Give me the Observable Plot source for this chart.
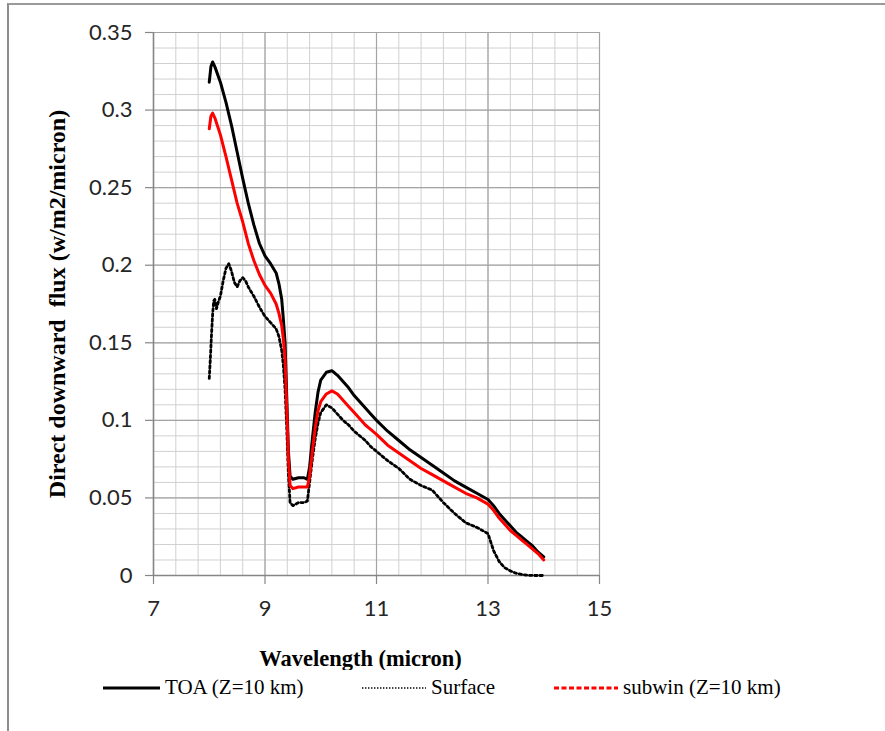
<!DOCTYPE html>
<html>
<head>
<meta charset="utf-8">
<script src="https://cdn.jsdelivr.net/npm/d3@7"></script>
<script src="https://cdn.jsdelivr.net/npm/@observablehq/plot@0.6"></script>
<style>
  html, body { margin: 0; padding: 0; background: #fff; }
  #page { position: relative; width: 885px; height: 731px; overflow: hidden; }
  #frame { position: absolute; left: 7px; top: 3px; width: 900px; height: 740px;
           border-left: 2px solid #8c8c8c; border-top: 2px solid #9a9a9a; }
  #chart { position: absolute; left: 0; top: 0; }
  .leg { position: absolute; top: 675px; font-family: "Liberation Serif", serif; font-size: 21px; color: #000; white-space: nowrap; }
  .leg svg { position: absolute; top: 0; }
</style>
</head>
<body>
<div id="page">
  <div id="frame"></div>
  <div id="chart"></div>
  <div id="legend"></div>
</div>
<script>
// Wavelength grid (micron) shared by the TOA and sub-window curves
const wavelength = [8.00, 8.03, 8.06, 8.10, 8.20, 8.30, 8.40, 8.50, 8.60, 8.70, 8.80, 8.90,
  9.00, 9.10, 9.20, 9.25, 9.30, 9.33, 9.36, 9.39, 9.42, 9.45, 9.50, 9.60, 9.70, 9.76,
  9.80, 9.85, 9.90, 9.95, 10.0, 10.1, 10.2, 10.3, 10.4, 10.5, 10.6, 10.7, 10.8, 10.9,
  11.0, 11.2, 11.4, 11.6, 11.8, 12.0, 12.2, 12.4, 12.6, 12.8, 13.0, 13.1, 13.2, 13.3,
  13.4, 13.5, 13.6, 13.7, 13.8, 13.9, 14.0];

// Direct downward flux at the top of atmosphere (Z = 10 km)
const toaFlux = [0.318, 0.328, 0.331, 0.328, 0.318, 0.305, 0.290, 0.273, 0.256, 0.240, 0.226, 0.214,
  0.206, 0.201, 0.195, 0.188, 0.178, 0.165, 0.150, 0.115, 0.080, 0.064, 0.062, 0.063, 0.063, 0.062,
  0.070, 0.088, 0.105, 0.118, 0.126, 0.131, 0.132, 0.129, 0.125, 0.121, 0.116, 0.112, 0.108, 0.104,
  0.100, 0.093, 0.087, 0.081, 0.076, 0.071, 0.066, 0.061, 0.057, 0.053, 0.049, 0.045, 0.040, 0.036,
  0.032, 0.028, 0.025, 0.022, 0.019, 0.015, 0.012];

// Direct downward flux from the sub-window model (Z = 10 km)
const subwinFlux = [0.288, 0.296, 0.298, 0.295, 0.284, 0.270, 0.255, 0.240, 0.228, 0.214, 0.203, 0.194,
  0.187, 0.182, 0.175, 0.169, 0.161, 0.152, 0.140, 0.108, 0.075, 0.058, 0.056, 0.057, 0.057, 0.057,
  0.064, 0.080, 0.095, 0.106, 0.112, 0.117, 0.119, 0.117, 0.113, 0.109, 0.105, 0.101, 0.097, 0.094,
  0.091, 0.084, 0.079, 0.074, 0.069, 0.065, 0.061, 0.057, 0.053, 0.050, 0.046, 0.042, 0.037, 0.033,
  0.029, 0.026, 0.023, 0.020, 0.017, 0.014, 0.010];

// Surface curve has its own, denser grid around the 8–8.7 micron structure
const surfaceWavelength = [8.00, 8.02, 8.04, 8.06, 8.08, 8.10, 8.13, 8.16, 8.20, 8.25, 8.30, 8.35,
  8.40, 8.45, 8.50, 8.55, 8.60, 8.65, 8.70, 8.80, 8.90, 9.00, 9.10, 9.20, 9.25, 9.30, 9.33, 9.36,
  9.39, 9.42, 9.45, 9.50, 9.60, 9.70, 9.76, 9.80, 9.85, 9.90, 9.95, 10.0, 10.1, 10.2, 10.3, 10.4,
  10.5, 10.6, 10.7, 10.8, 10.9, 11.0, 11.2, 11.4, 11.6, 11.8, 12.0, 12.2, 12.4, 12.6, 12.8, 13.0,
  13.1, 13.2, 13.3, 13.4, 13.5, 13.6, 13.7, 13.8, 13.9, 14.0];
const surfaceFlux = [0.127, 0.140, 0.155, 0.168, 0.177, 0.178, 0.172, 0.176, 0.180, 0.190, 0.198, 0.201,
  0.196, 0.189, 0.186, 0.190, 0.192, 0.190, 0.186, 0.180, 0.173, 0.167, 0.163, 0.159, 0.154, 0.145,
  0.135, 0.120, 0.095, 0.065, 0.047, 0.045, 0.047, 0.047, 0.048, 0.060, 0.075, 0.088, 0.098, 0.105,
  0.110, 0.108, 0.104, 0.100, 0.097, 0.093, 0.090, 0.087, 0.083, 0.080, 0.074, 0.069, 0.062, 0.058,
  0.055, 0.047, 0.040, 0.034, 0.031, 0.027, 0.016, 0.009, 0.005, 0.003, 0.0015, 0.0007, 0.0002, 0, 0, 0];

// Axis ticks
const xTicks = [7, 9, 11, 13, 15];
const yTicks = [0, 0.05, 0.1, 0.15, 0.2, 0.25, 0.3, 0.35];
const yTickLabels = ["0", "0.05", "0.1", "0.15", "0.2", "0.25", "0.3", "0.35"];
const xMinor = d3.range(7, 15.001, 0.4);
const yMinor = d3.range(0, 0.3501, 0.01);

const seriesNames = ["TOA (Z=10 km)", "Surface", "subwin (Z=10 km)"];

const toa = wavelength.map((w, i) => ({w, f: toaFlux[i]}));
const subwin = wavelength.map((w, i) => ({w, f: subwinFlux[i]}));
const surface = surfaceWavelength.map((w, i) => ({w, f: surfaceFlux[i]}));

const axisColor = "#868686";
const serif = "'Liberation Serif', 'Times New Roman', serif";

const chart = Plot.plot({
  width: 885,
  height: 670,
  marginLeft: 153,
  marginRight: 286,
  marginTop: 32,
  marginBottom: 95,
  style: {fontFamily: "Lato, sans-serif", fontSize: "22px", color: "#262626", background: "transparent"},
  x: {domain: [7, 15]},
  y: {domain: [0, 0.35]},
  marks: [
    Plot.ruleX(xMinor, {stroke: "#d0d0d0", strokeWidth: 1}),
    Plot.ruleY(yMinor, {stroke: "#d0d0d0", strokeWidth: 1}),
    Plot.ruleX(xTicks, {stroke: "#a4a4a4", strokeWidth: 1.2}),
    Plot.ruleY(yTicks, {stroke: "#a4a4a4", strokeWidth: 1.2}),
    Plot.ruleX([7], {stroke: axisColor, strokeWidth: 1.5}),
    Plot.ruleY([0], {stroke: axisColor, strokeWidth: 1.5}),
    Plot.axisX({ticks: xTicks, tickSize: 9, tickPadding: 16, stroke: axisColor, strokeWidth: 1.2,
      tickFormat: d => String(d), label: null, fontSize: 22}),
    Plot.axisY({ticks: yTicks, tickSize: 8, tickPadding: 13, stroke: axisColor, strokeWidth: 1.2,
      tickFormat: d => yTickLabels[yTicks.indexOf(d)], label: null, fontSize: 22}),
    Plot.line(surface, {x: "w", y: "f", stroke: "#000", strokeWidth: 2.8, strokeDasharray: "2.4 2.8"}),
    Plot.line(toa, {x: "w", y: "f", stroke: "#000", strokeWidth: 3, strokeLinejoin: "round"}),
    Plot.line(subwin, {x: "w", y: "f", stroke: "#ff0000", strokeWidth: 3, strokeLinejoin: "round"}),
    Plot.text(["Direct downward  flux (w/m2/micron)"], {frameAnchor: "left", dx: -96, rotate: -90,
      textAnchor: "middle", lineAnchor: "middle",
      text: d => d, fontFamily: serif, fontWeight: "bold", fontSize: 24, fill: "#000"}),
    Plot.text(["Wavelength (micron)"], {frameAnchor: "bottom", dx: -16, dy: 83,
      textAnchor: "middle", lineAnchor: "middle",
      text: d => d, fontFamily: serif, fontWeight: "bold", fontSize: 22.5, fill: "#000"})
  ]
});
document.getElementById("chart").append(chart);

// Legend row below the chart
const legendItems = [
  {name: seriesNames[0], left: 103, len: 57, stroke: "#000", width: 3, dash: null},
  {name: seriesNames[1], left: 362, len: 64, stroke: "#000", width: 1.6, dash: "1.4 1.6"},
  {name: seriesNames[2], left: 554, len: 64, stroke: "#ff0000", width: 3, dash: "5 2.5"}
];
const legend = document.getElementById("legend");
for (const item of legendItems) {
  const div = document.createElement("div");
  div.className = "leg";
  div.style.left = item.left + "px";
  div.style.paddingLeft = (item.len + 5) + "px";
  div.innerHTML = `<svg width="${item.len}" height="24" style="left:0"><line x1="0" x2="${item.len}" y1="13" y2="13" stroke="${item.stroke}" stroke-width="${item.width}" ${item.dash ? `stroke-dasharray="${item.dash}"` : ""}/></svg>`;
  div.append(document.createTextNode(item.name));
  legend.append(div);
}
</script>
</body>
</html>
